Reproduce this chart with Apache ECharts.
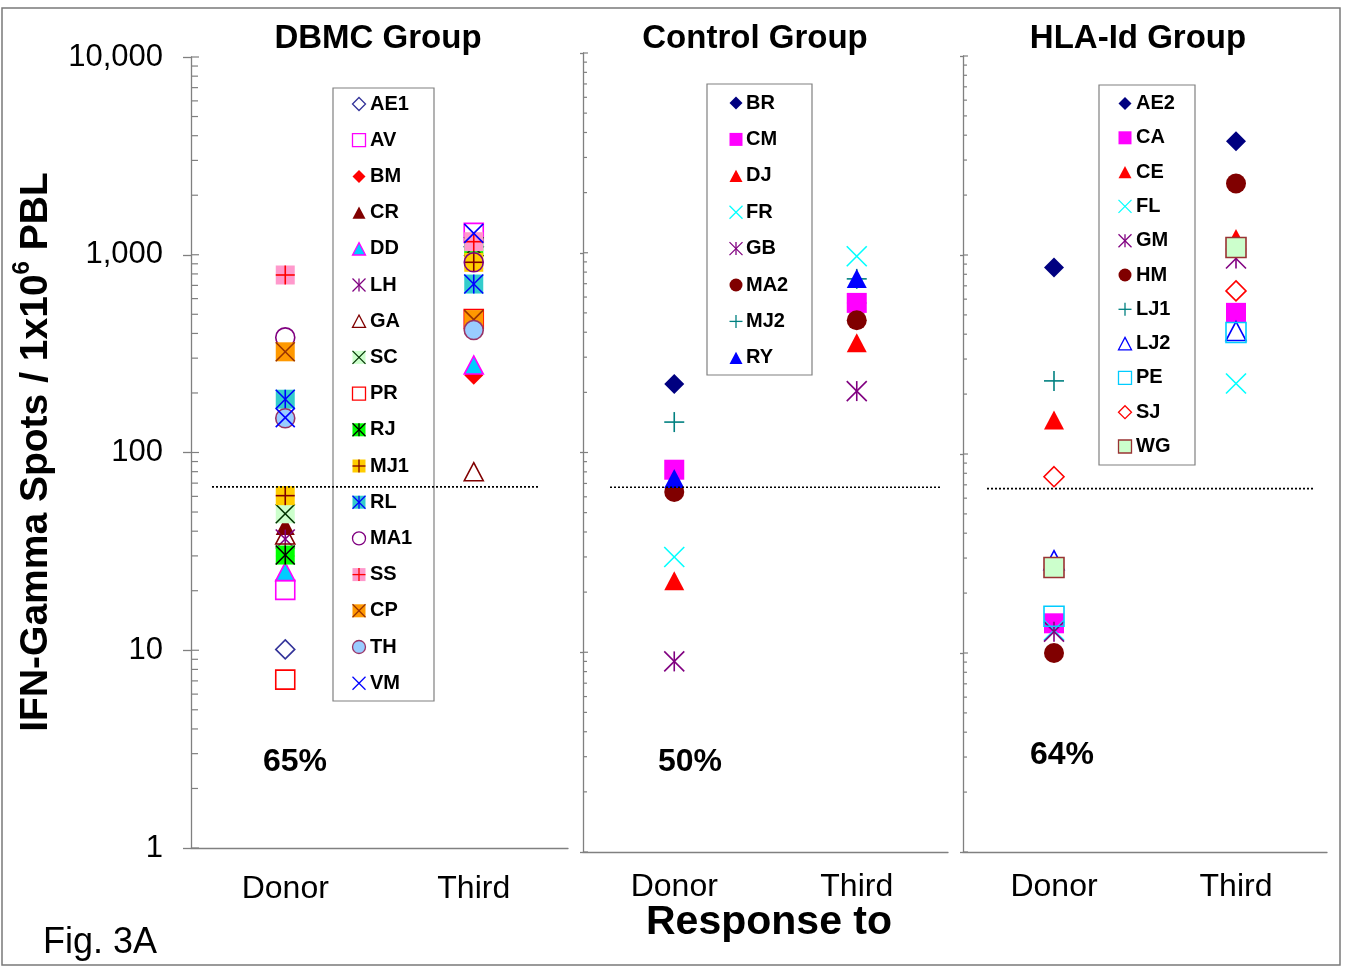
<!DOCTYPE html>
<html>
<head>
<meta charset="utf-8">
<script src="https://cdn.jsdelivr.net/npm/echarts@6/dist/echarts.min.js"></script>
<style>
  html, body { margin: 0; padding: 0; background: #ffffff; }
  #chart { width: 1346px; height: 967px; }
</style>
</head>
<body>
<div id="chart"></div>
<script>
// ---- data ----
const CATEGORIES = ['Donor', 'Third'];
const Y_TICK_LABELS = ['1', '10', '100', '1,000', '10,000'];
const MAJOR_TICKS = [1, 10, 100, 1000, 10000];
const MINOR_TICKS = [2, 3, 4, 5, 6, 7, 8, 9, 20, 30, 40, 50, 60, 70, 80, 90,
  200, 300, 400, 500, 600, 700, 800, 900, 2000, 3000, 4000, 5000, 6000, 7000, 8000, 9000];
const CUTOFF = 67;
const GROUP_TITLES = ['DBMC Group', 'Control Group', 'HLA-Id Group'];
const PERCENTS = ['65%', '50%', '64%'];

const DBMC_NAMES  = ['AE1', 'AV', 'BM', 'CR', 'DD', 'LH', 'GA', 'SC', 'PR', 'RJ', 'MJ1', 'RL', 'MA1', 'SS', 'CP', 'TH', 'VM'];
const DBMC_DONOR  = [10.1, 20.2, 30, 42.5, 25, 36.5, 38.3, 49, 7.1, 30.3, 60.5, 186, 382, 790, 323, 149, 150];
const DBMC_THIRD  = [1098, 1290, 246, 950, 277, 1098, 80, 1098, 473, 1098, 916, 711, 916, 1164, 470, 416, 1283];

const CTRL_NAMES  = ['BR', 'CM', 'DJ', 'FR', 'GB', 'MA2', 'MJ2', 'RY'];
const CTRL_DONOR  = [220, 82, 22.8, 30, 9, 63.5, 142, 74];
const CTRL_THIRD  = [561, 561, 354, 960, 203, 459, 740, 743];

const HLA_NAMES   = ['AE2', 'CA', 'CE', 'FL', 'GM', 'HM', 'LJ1', 'LJ2', 'PE', 'SJ', 'WG'];
const HLA_DONOR   = [865, 14.1, 148, 13, 12.8, 10, 233, 29.3, 15.3, 76.9, 26.9];
const HLA_THIRD   = [3729, 512, 1210, 226, 960, 2286, 1090, 415, 408, 660, 1091];

// ---- marker styles per patient ----
const STYLES = {
  AE1: { shape: 'diamond', stroke: '#333399' },
  AV:  { shape: 'square', stroke: '#FF00FF' },
  BM:  { shape: 'diamond', fill: '#FF0000' },
  CR:  { shape: 'triangle', fill: '#800000' },
  DD:  { shape: 'triangle', fill: '#00CCFF', stroke: '#FF00FF' },
  LH:  { mark: 'star', markColor: '#800080' },
  GA:  { shape: 'triangle', stroke: '#800000' },
  SC:  { shape: 'square', fill: '#CCFFCC', mark: 'x', markColor: '#003300' },
  PR:  { shape: 'square', stroke: '#FF0000' },
  RJ:  { shape: 'square', fill: '#00FF00', mark: 'star', markColor: '#000000' },
  MJ1: { shape: 'square', fill: '#FFCC00', mark: 'plus', markColor: '#800000' },
  RL:  { shape: 'square', fill: '#33CCCC', mark: 'star', markColor: '#0000FF' },
  MA1: { shape: 'circle', stroke: '#800080' },
  SS:  { shape: 'square', fill: '#FF99CC', mark: 'plus', markColor: '#FF0000' },
  CP:  { shape: 'square', fill: '#FF9900', mark: 'x', markColor: '#993300' },
  TH:  { shape: 'circle', fill: '#99CCFF', stroke: '#993366' },
  VM:  { mark: 'x', markColor: '#0000FF' },
  BR:  { shape: 'diamond', fill: '#000080' },
  CM:  { shape: 'square', fill: '#FF00FF' },
  DJ:  { shape: 'triangle', fill: '#FF0000' },
  FR:  { mark: 'x', markColor: '#00FFFF' },
  GB:  { mark: 'star', markColor: '#800080' },
  MA2: { shape: 'circle', fill: '#800000' },
  MJ2: { mark: 'plus', markColor: '#008080' },
  RY:  { shape: 'triangle', fill: '#0000FF' },
  AE2: { shape: 'diamond', fill: '#000080' },
  CA:  { shape: 'square', fill: '#FF00FF' },
  CE:  { shape: 'triangle', fill: '#FF0000' },
  FL:  { mark: 'x', markColor: '#00FFFF' },
  GM:  { mark: 'star', markColor: '#800080' },
  HM:  { shape: 'circle', fill: '#800000' },
  LJ1: { mark: 'plus', markColor: '#008080' },
  LJ2: { shape: 'triangle', stroke: '#0000FF' },
  PE:  { shape: 'square', stroke: '#00CCFF' },
  SJ:  { shape: 'diamond', stroke: '#FF0000' },
  WG:  { shape: 'square', fill: '#CCFFCC', stroke: '#993333' }
};

// ---- layout ----
const FONT = '"Liberation Sans", Arial, sans-serif';
const AXIS_GREY = '#808080';
const PANELS = [
  { names: DBMC_NAMES, donor: DBMC_DONOR, third: DBMC_THIRD,
    grid: { left: 191, top: 57, width: 377, height: 791 },
    size: 19, tickOut: 8, majorIn: 8, minorIn: 7, labelMargin: 25,
    cut: [21, 28], title: [378, 39], pct: [295, 762],
    legend: { box: [333, 88, 101, 613], mx: 359, tx: 370, y0: 104, step: 36.2 } },
  { names: CTRL_NAMES, donor: CTRL_DONOR, third: CTRL_THIRD,
    grid: { left: 583, top: 53, width: 365, height: 799 },
    size: 20, tickOut: 3, majorIn: 5, minorIn: 4, labelMargin: 19,
    cut: [27, 8], title: [755, 39], pct: [690, 762],
    legend: { box: [707, 84, 105, 291], mx: 736, tx: 746, y0: 103, step: 36.4 } },
  { names: HLA_NAMES, donor: HLA_DONOR, third: HLA_THIRD,
    grid: { left: 963, top: 56, width: 364, height: 796 },
    size: 20, tickOut: 3, majorIn: 5, minorIn: 4, labelMargin: 19,
    cut: [24, 14], title: [1138, 39], pct: [1062, 755],
    legend: { box: [1099, 85, 96, 380], mx: 1125, tx: 1136, y0: 103.5, step: 34.3 } }
];

// Build the zrender shapes for one marker centred at (cx, cy)
function markerShapes(spec, cx, cy, s) {
  const h = s / 2;
  const out = [];
  const lw = s > 14 ? 1.6 : 1.3;
  const style = { fill: spec.fill || 'none', stroke: spec.stroke || 'none', lineWidth: lw };
  if (spec.shape === 'square') {
    out.push({ type: 'rect', shape: { x: cx - h, y: cy - h, width: s, height: s }, style: style });
  } else if (spec.shape === 'circle') {
    out.push({ type: 'circle', shape: { cx: cx, cy: cy, r: h }, style: style });
  } else if (spec.shape === 'diamond') {
    out.push({ type: 'polygon', shape: { points: [[cx, cy - h], [cx + h, cy], [cx, cy + h], [cx - h, cy]] }, style: style });
  } else if (spec.shape === 'triangle') {
    const t = h * 0.95;
    out.push({ type: 'polygon', shape: { points: [[cx, cy - t], [cx + h, cy + t], [cx - h, cy + t]] }, style: style });
  }
  if (spec.mark) {
    const ls = { stroke: spec.markColor, lineWidth: lw, fill: 'none' };
    const seg = (x1, y1, x2, y2) => out.push({ type: 'line', shape: { x1: x1, y1: y1, x2: x2, y2: y2 }, style: ls });
    if (spec.mark === 'x' || spec.mark === 'star') {
      seg(cx - h, cy - h, cx + h, cy + h);
      seg(cx - h, cy + h, cx + h, cy - h);
    }
    if (spec.mark === 'star') seg(cx, cy - h, cx, cy + h);
    if (spec.mark === 'plus') {
      seg(cx - h, cy, cx + h, cy);
      seg(cx, cy - h, cx, cy + h);
    }
  }
  return out;
}

const grids = [], xAxes = [], yAxes = [], series = [], graphics = [];

PANELS.forEach((p, gi) => {
  grids.push(Object.assign({ containLabel: false }, p.grid));
  xAxes.push({
    type: 'category', gridIndex: gi, data: CATEGORIES,
    axisLine: { lineStyle: { color: AXIS_GREY, width: 1.3 } },
    axisTick: { length: 8, lineStyle: { color: AXIS_GREY, width: 1.3 } },
    axisLabel: { fontFamily: FONT, fontSize: 32, color: '#000', margin: p.labelMargin },
    splitLine: { show: false }
  });
  yAxes.push({
    type: 'log', logBase: 10, gridIndex: gi, min: 1, max: 10000, splitNumber: 4,
    axisLine: { show: true, lineStyle: { color: AXIS_GREY, width: 1.3 } },
    axisTick: { show: true, length: p.tickOut, lineStyle: { color: AXIS_GREY, width: 1.3 } },
    axisLabel: {
      show: gi === 0, fontFamily: FONT, fontSize: 31, color: '#000', margin: 28,
      formatter: v => Y_TICK_LABELS[Math.round(Math.log10(v))]
    },
    splitLine: { show: false }
  });

  // inner major and minor ticks on the log axis
  const tickData = MAJOR_TICKS.map(v => [CATEGORIES[0], v, 1]).concat(MINOR_TICKS.map(v => [CATEGORIES[0], v, 0]));
  series.push({
    type: 'custom', name: 'ticks' + gi, xAxisIndex: gi, yAxisIndex: gi, silent: true, z: 1,
    data: tickData, encode: { x: 0, y: 1 },
    renderItem: (params, api) => {
      const y = api.coord([0, api.value(1)])[1];
      const x0 = params.coordSys.x;
      const len = api.value(2) ? p.majorIn : p.minorIn;
      return { type: 'line', shape: { x1: x0, y1: y, x2: x0 + len, y2: y }, style: { stroke: AXIS_GREY, lineWidth: 1.2 } };
    }
  });

  // one custom series per patient
  p.names.forEach((name, i) => {
    series.push({
      type: 'custom', name: name, xAxisIndex: gi, yAxisIndex: gi, z: 3,
      data: [[CATEGORIES[0], p.donor[i]], [CATEGORIES[1], p.third[i]]],
      encode: { x: 0, y: 1 },
      renderItem: (params, api) => {
        const pt = api.coord([api.value(0), api.value(1)]);
        return { type: 'group', children: markerShapes(STYLES[name], pt[0], pt[1], p.size) };
      }
    });
  });

  // dotted cut-off line
  series.push({
    type: 'custom', name: 'cutoff' + gi, xAxisIndex: gi, yAxisIndex: gi, silent: true, z: 6,
    data: [[CATEGORIES[0], CUTOFF]], encode: { x: 0, y: 1 },
    renderItem: (params, api) => {
      const y = api.coord([0, api.value(1)])[1];
      const cs = params.coordSys;
      return { type: 'line', shape: { x1: cs.x + p.cut[0], y1: y, x2: cs.x + cs.width - p.cut[1], y2: y },
        style: { stroke: '#000', lineWidth: 1.7, lineDash: [2, 2] } };
    }
  });

  // group title and percentage
  graphics.push({ type: 'text', x: p.title[0], y: p.title[1], z: 10,
    style: { text: GROUP_TITLES[gi], font: 'bold 33px ' + FONT, fill: '#000',
      textAlign: 'center', textVerticalAlign: 'middle', align: 'center', verticalAlign: 'middle' } });
  graphics.push({ type: 'text', x: p.pct[0], y: p.pct[1], z: 10,
    style: { text: PERCENTS[gi], font: 'bold 32px ' + FONT, fill: '#000',
      textAlign: 'center', textVerticalAlign: 'middle', align: 'center', verticalAlign: 'middle' } });

  // legend box with markers and names
  const L = p.legend;
  const items = [{ type: 'rect', shape: { x: L.box[0], y: L.box[1], width: L.box[2], height: L.box[3] },
    style: { fill: 'none', stroke: AXIS_GREY, lineWidth: 1.2 } }];
  p.names.forEach((name, i) => {
    const y = L.y0 + i * L.step;
    markerShapes(STYLES[name], L.mx, y, 13).forEach(s => items.push(s));
    items.push({ type: 'text', x: L.tx, y: y,
      style: { text: name, font: 'bold 20px ' + FONT, fill: '#000',
        textAlign: 'left', textVerticalAlign: 'middle', align: 'left', verticalAlign: 'middle' } });
  });
  graphics.push({ type: 'group', z: 4, children: items });
});

// axis title, shared x title, figure label, frame
graphics.push({
  type: 'text', x: 33, y: 452, rotation: Math.PI / 2, z: 10,
  style: {
    text: '{m|IFN-Gamma Spots / 1x10}{s|6}{m| PBL}',
    textAlign: 'center', textVerticalAlign: 'middle', align: 'center', verticalAlign: 'middle',
    rich: {
      m: { font: 'bold 39px ' + FONT, fill: '#000', lineHeight: 45, verticalAlign: 'bottom' },
      s: { font: 'bold 24px ' + FONT, fill: '#000', lineHeight: 27, verticalAlign: 'top' }
    }
  }
});
graphics.push({ type: 'text', x: 769, y: 923, z: 10,
  style: { text: 'Response to', font: 'bold 41px ' + FONT, fill: '#000',
    textAlign: 'center', textVerticalAlign: 'middle', align: 'center', verticalAlign: 'middle' } });
graphics.push({ type: 'text', x: 43, y: 943, z: 10,
  style: { text: 'Fig. 3A', font: '36px ' + FONT, fill: '#000',
    textAlign: 'left', textVerticalAlign: 'middle', align: 'left', verticalAlign: 'middle' } });
graphics.push({ type: 'rect', z: 0, shape: { x: 2, y: 8, width: 1338, height: 957 },
  style: { fill: 'none', stroke: '#7a7a7a', lineWidth: 1.5 } });

const chart = echarts.init(document.getElementById('chart'), null, { renderer: 'canvas' });
chart.setOption({
  animation: false,
  backgroundColor: '#ffffff',
  grid: grids,
  xAxis: xAxes,
  yAxis: yAxes,
  series: series,
  graphic: { elements: graphics }
});
</script>
</body>
</html>
